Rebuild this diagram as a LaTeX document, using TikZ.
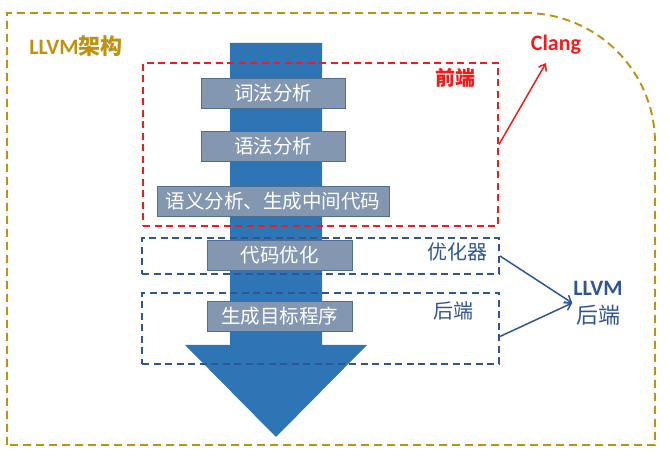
\documentclass[tikz,border=0pt]{standalone}
\usepackage{fontspec}
\setmainfont{Carlito}
\newfontfamily\cjk{Noto Sans CJK SC}
\usetikzlibrary{arrows.meta}
\definecolor{gold}{HTML}{C09010}
\definecolor{flow}{HTML}{2E75B6}
\definecolor{stepfill}{HTML}{8497B0}
\definecolor{stepline}{HTML}{4F6E94}
\definecolor{darkblue}{HTML}{2F5597}
\definecolor{front}{HTML}{F21A1A}
\tikzset{
	stepbox/.style={draw=stepline, line width=0.8pt, fill=stepfill, text=white, minimum height=30pt, inner sep=0pt, font=\cjk\fontsize{19.5}{21}\selectfont},
	stagebox/.style={draw, dashed, line width=1.9pt, dash pattern=on 7pt off 4.5pt, inner sep=0pt},
	tip/.style={-{Straight Barb[length=6pt,width=9pt]}, line width=1.5pt}
}
\begin{document}
\begin{tikzpicture}[x=1pt,y=1pt]
		\useasboundingbox (0,0) rectangle (670,462);
		\draw[gold, line width=1.9pt, dash pattern=on 8pt off 5pt] (7,17) -- (7,449) -- (525,449) arc[start angle=90, end angle=0, radius=130] -- (655,17) -- cycle;
		\node[text=gold, font=\bfseries\fontsize{22}{24}\selectfont] (arch) at (76,416) {LLVM{\cjk 架构}};
		\fill[flow] (230,419) -- (322,419) -- (322,117) -- (367,117) -- (276,25) -- (185,117) -- (230,117) -- cycle;
		\node[stepbox, minimum width=144pt] (lex) at (273,368.5) {词法分析};
		\node[stepbox, minimum width=144pt] (parse) at (273,316) {语法分析};
		\node[stepbox, minimum width=232pt] (sema) at (273,260.5) {语义分析、生成中间代码};
		\node[stepbox, minimum width=145pt] (opt) at (279.5,207) {代码优化};
		\node[stepbox, minimum width=145pt] (gen) at (279.5,145.5) {生成目标程序};
		\node[stagebox, draw=front, minimum width=355pt, minimum height=163pt] (frontend) at (320.5,317.5) {};
		\node[stagebox, draw=darkblue, minimum width=357pt, minimum height=36pt] (optimizer) at (320.5,206) {};
		\node[stagebox, draw=darkblue, minimum width=357pt, minimum height=71pt] (backend) at (320.5,133.5) {};
		\node[text=front, font=\cjk\bfseries\fontsize{20}{22}\selectfont] (frontlabel) at (455,384) {前端};
		\node[text=darkblue, font=\cjk\fontsize{20}{22}\selectfont] (optlabel) at (457,210) {优化器};
		\node[text=darkblue, font=\cjk\fontsize{20}{22}\selectfont] (backlabel) at (453,151) {后端};
		\node[text=front, font=\bfseries\fontsize{22}{24}\selectfont] (clang) at (556,417) {Clang};
		\node[text=darkblue, align=center, font=\fontsize{22}{28}\selectfont, inner sep=1pt] (llvmbe) at (598,159) {\textbf{LLVM}\\{\cjk 后端}};
		\coordinate (clangtip) at (546,399);
		\draw[tip, front] (frontend.east) -- (clangtip);
		\draw[tip, darkblue] (optimizer.east) -- (llvmbe.west);
		\draw[tip, darkblue] ([yshift=-8pt]backend.east) -- (llvmbe.west);
	\end{tikzpicture}
\end{document}
